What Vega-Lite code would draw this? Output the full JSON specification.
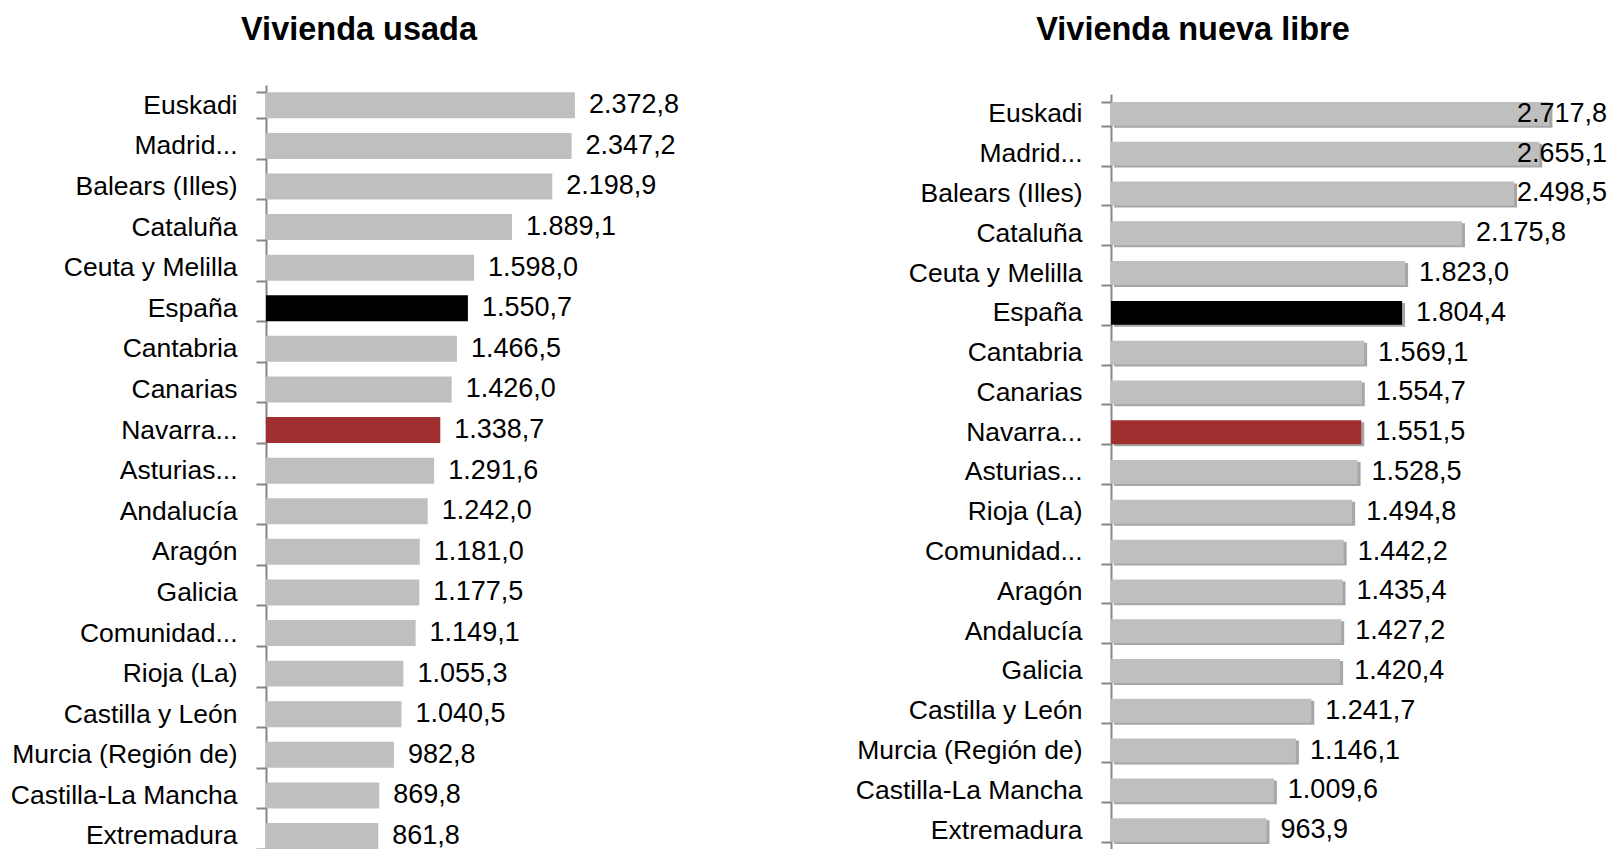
{
  "$schema": "https://vega.github.io/schema/vega-lite/v6.json",
  "background": "white",
  "padding": {"left": 10, "top": 13, "right": 0, "bottom": 0},
  "bounds": "flush",
  "spacing": 659,
  "config": {
    "locale": {"number": {"decimal": ",", "thousands": ".", "grouping": [3], "currency": ["", " €"]}},
    "view": {"stroke": null},
    "font": "Liberation Sans",
    "title": {"font": "Liberation Sans", "fontSize": 32.5, "fontWeight": "bold", "color": "#000000", "anchor": "middle", "frame": "group", "offset": 25.7},
    "axisY": {
      "title": null,
      "tickBand": "extent",
      "tickSize": 10,
      "tickWidth": 2,
      "tickColor": "#868686",
      "domainWidth": 2,
      "domainColor": "#868686",
      "labelFont": "Liberation Sans",
      "labelFontSize": 26.5,
      "labelColor": "#000000",
      "labelPadding": 19,
      "labelLimit": 400,
      "grid": false
    }
  },
  "datasets": {
    "usada": [
      {"region": "Euskadi", "value": 2372.8},
      {"region": "Madrid...", "value": 2347.2},
      {"region": "Balears (Illes)", "value": 2198.9},
      {"region": "Cataluña", "value": 1889.1},
      {"region": "Ceuta y Melilla", "value": 1598.0},
      {"region": "España", "value": 1550.7},
      {"region": "Cantabria", "value": 1466.5},
      {"region": "Canarias", "value": 1426.0},
      {"region": "Navarra...", "value": 1338.7},
      {"region": "Asturias...", "value": 1291.6},
      {"region": "Andalucía", "value": 1242.0},
      {"region": "Aragón", "value": 1181.0},
      {"region": "Galicia", "value": 1177.5},
      {"region": "Comunidad...", "value": 1149.1},
      {"region": "Rioja (La)", "value": 1055.3},
      {"region": "Castilla y León", "value": 1040.5},
      {"region": "Murcia (Región de)", "value": 982.8},
      {"region": "Castilla-La Mancha", "value": 869.8},
      {"region": "Extremadura", "value": 861.8}
    ],
    "nueva": [
      {"region": "Euskadi", "value": 2717.8},
      {"region": "Madrid...", "value": 2655.1},
      {"region": "Balears (Illes)", "value": 2498.5},
      {"region": "Cataluña", "value": 2175.8},
      {"region": "Ceuta y Melilla", "value": 1823.0},
      {"region": "España", "value": 1804.4},
      {"region": "Cantabria", "value": 1569.1},
      {"region": "Canarias", "value": 1554.7},
      {"region": "Navarra...", "value": 1551.5},
      {"region": "Asturias...", "value": 1528.5},
      {"region": "Rioja (La)", "value": 1494.8},
      {"region": "Comunidad...", "value": 1442.2},
      {"region": "Aragón", "value": 1435.4},
      {"region": "Andalucía", "value": 1427.2},
      {"region": "Galicia", "value": 1420.4},
      {"region": "Castilla y León", "value": 1241.7},
      {"region": "Murcia (Región de)", "value": 1146.1},
      {"region": "Castilla-La Mancha", "value": 1009.6},
      {"region": "Extremadura", "value": 963.9}
    ]
  },
  "hconcat": [
    {
      "title": {"text": "Vivienda usada"},
      "width": 186,
      "height": 771.3,
      "data": {"name": "usada"},
      "encoding": {
        "y": {"field": "region", "type": "nominal", "sort": null,
              "scale": {"paddingInner": 0.36, "paddingOuter": 0.18}}
      },
      "layer": [
        {
          "mark": {"type": "bar"},
          "encoding": {
            "x": {"field": "value", "type": "quantitative", "scale": {"domain": [0, 1428.6], "nice": false, "zero": true}, "axis": null},
            "color": {
              "condition": [
                {"test": "datum.region === 'España'", "value": "#000000"},
                {"test": "datum.region === 'Navarra...'", "value": "#A0302F"}
              ],
              "value": "#BFBFBF"
            }
          }
        },
        {
          "mark": {"type": "text", "align": "left", "baseline": "middle", "dx": 14, "fontSize": 27, "font": "Liberation Sans", "color": "#000000"},
          "encoding": {
            "x": {"field": "value", "type": "quantitative"},
            "text": {"field": "value", "type": "quantitative", "format": ",.1f"}
          }
        }
      ]
    },
    {
      "title": {"text": "Vivienda nueva libre", "dx": -114},
      "width": 392,
      "height": 771.3,
      "data": {"name": "nueva"},
      "encoding": {
        "y": {"field": "region", "type": "nominal", "sort": null,
              "scale": {"range": [9, 765], "paddingInner": 0.4, "paddingOuter": 0.2}}
      },
      "layer": [
        {
          "mark": {"type": "bar", "color": "#A6A6A6", "xOffset": 3, "x2Offset": 3, "yOffset": 2},
          "encoding": {
            "x": {"field": "value", "type": "quantitative", "scale": {"domain": [0, 2430], "nice": false, "zero": true}, "axis": null}
          }
        },
        {
          "mark": {"type": "bar"},
          "encoding": {
            "x": {"field": "value", "type": "quantitative", "scale": {"domain": [0, 2430], "nice": false, "zero": true}, "axis": null},
            "color": {
              "condition": [
                {"test": "datum.region === 'España'", "value": "#000000"},
                {"test": "datum.region === 'Navarra...'", "value": "#A0302F"}
              ],
              "value": "#BFBFBF"
            }
          }
        },
        {
          "mark": {"type": "text", "align": "left", "baseline": "middle", "dx": 14, "fontSize": 27, "font": "Liberation Sans", "color": "#000000"},
          "encoding": {
            "x": {"field": "value", "type": "quantitative", "scale": {"domain": [0, 2430], "nice": false, "zero": true, "clamp": true}, "axis": null},
            "text": {"field": "value", "type": "quantitative", "format": ",.1f"}
          }
        }
      ],
      "resolve": {"scale": {"x": "independent"}}
    }
  ]
}
